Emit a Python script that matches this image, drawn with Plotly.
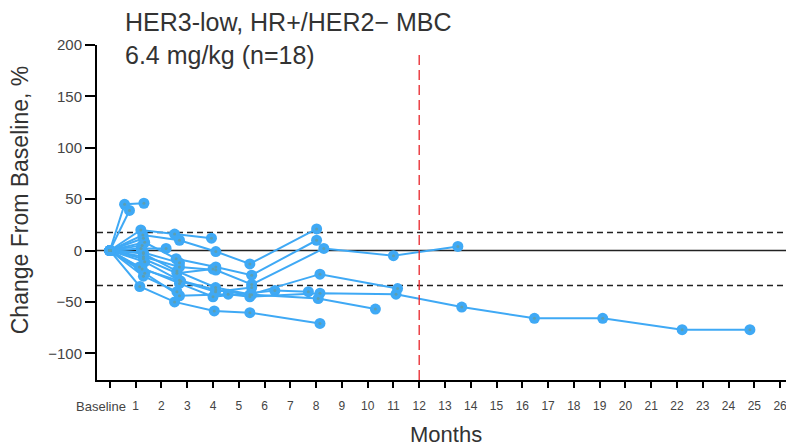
import plotly.graph_objects as go

# Per-patient tumour size change from baseline (%) at each assessment (months)
pt01_months = [0, 0.57, 1.32]
pt01_change = [0, 45, 46]
pt02_months = [0, 0.76]
pt02_change = [0, 39]
pt03_months = [0, 1.2, 2.51, 3.94]
pt03_change = [0, 20, 16, 12]
pt04_months = [0, 1.28, 2.7, 4.11, 5.43, 8.02]
pt04_change = [0, 15, 10, -1, -13, 21]
pt05_months = [0, 1.21, 2.18]
pt05_change = [0, 2, 2]
pt06_months = [0, 1.35, 2.57, 4.11, 5.5, 8.02]
pt06_change = [0, 8, -8, -16, -24, 10]
pt07_months = [0, 1.3, 2.7, 4.11, 5.5, 8.3, 11.0, 13.5]
pt07_change = [0, -6, -16, -19, -33, 2, -5, 4]
pt08_months = [0, 1.35, 2.7, 4.11, 5.43, 8.15, 11.16]
pt08_change = [0, -11, -29, -38.5, -43, -23, -37]
pt09_months = [0, 1.15, 2.7, 4.0, 6.4, 7.7]
pt09_change = [0, -16, -32, -45, -39, -40]
pt10_months = [0, 1.35, 2.7, 4.59, 5.43, 8.15, 11.1, 13.65, 16.47, 19.12, 22.2, 24.83]
pt10_change = [0, -22, -44, -42.5, -45, -41.5, -42.5, -55, -66, -66, -77, -77]
pt11_months = [0, 1.16, 2.51, 4.05, 5.43, 8.15]
pt11_change = [0, -35, -50, -58.8, -60.5, -71]
pt12_months = [0, 1.3, 2.6, 4.1, 5.5, 8.08, 10.3]
pt12_change = [0, -3, -20, -36, -43, -46.7, -57]
pt13_months = [0, 1.3]
pt13_change = [0, 12]
pt14_months = [0, 1.25]
pt14_change = [0, 5]
pt15_months = [0, 1.3, 2.7]
pt15_change = [0, -2, -12]
pt16_months = [0, 1.3, 2.6, 4.0]
pt16_change = [0, -8, -22, -18]
pt17_months = [0, 1.25, 2.75, 4.1, 5.5]
pt17_change = [0, -18, -30, -40, -36]
pt18_months = [0, 1.3, 2.6]
pt18_change = [0, -25, -40]

patients = [
    (pt01_months, pt01_change), (pt02_months, pt02_change), (pt03_months, pt03_change),
    (pt04_months, pt04_change), (pt05_months, pt05_change), (pt06_months, pt06_change),
    (pt07_months, pt07_change), (pt08_months, pt08_change), (pt09_months, pt09_change),
    (pt10_months, pt10_change), (pt11_months, pt11_change), (pt12_months, pt12_change),
    (pt13_months, pt13_change), (pt14_months, pt14_change), (pt15_months, pt15_change),
    (pt16_months, pt16_change), (pt17_months, pt17_change), (pt18_months, pt18_change),
]

# Reference levels
progression_line = 17.5
response_line = -34
cutoff_month = 12

x_tick_vals = list(range(0, 27))
x_tick_text = [""] + [str(m) for m in range(1, 27)]
y_tick_vals = [-100, -50, 0, 50, 100, 150, 200]

title_lines = ["HER3-low, HR+/HER2\u2212 MBC", "6.4 mg/kg (n=18)"]

BLUE = "#3fa9f5"
FONT = "Liberation Sans, Arial, sans-serif"

fig = go.Figure()

for months, change in patients:
    fig.add_trace(go.Scatter(
        x=months, y=change, mode="lines+markers",
        line=dict(color=BLUE, width=2),
        marker=dict(color=BLUE, size=11, line=dict(width=0)),
        showlegend=False, hoverinfo="skip",
    ))

# Small darker centre on each assessment marker
for months, change in patients:
    fig.add_trace(go.Scatter(
        x=months, y=change, mode="markers",
        marker=dict(color="#5d9fb0", size=3, line=dict(width=0)),
        showlegend=False, hoverinfo="skip",
    ))

# Horizontal reference lines
for yv, dash in [(progression_line, "6px,4px"), (0, "solid"), (response_line, "6px,4px")]:
    fig.add_shape(type="line", xref="paper", x0=0, x1=1, yref="y", y0=yv, y1=yv,
                  line=dict(color="#222", width=1.6, dash=dash), layer="below")

# Vertical 12-month marker
fig.add_shape(type="line", xref="x", x0=cutoff_month, x1=cutoff_month, yref="y", y0=-126, y1=192,
              line=dict(color="#e8252b", width=1.3, dash="10px,5px"), layer="above")

fig.update_layout(
    width=786, height=448,
    margin=dict(l=97, r=0, t=44.5, b=68),
    paper_bgcolor="white", plot_bgcolor="white",
    font=dict(family=FONT, color="#333"),
    xaxis=dict(
        range=[-0.5, 26.23], showline=True, linecolor="black", linewidth=2,
        ticks="outside", ticklen=6, tickwidth=1.5, tickcolor="black",
        tickvals=x_tick_vals, ticktext=x_tick_text,
        tickfont=dict(size=12, color="#444", family=FONT),
        ticklabelstandoff=8, ticklabeloverflow="allow",
        showgrid=False, zeroline=False,
    ),
    yaxis=dict(
        range=[-126, 200], showline=True, linecolor="black", linewidth=2,
        ticks="outside", ticklen=10, tickwidth=1.5, tickcolor="black",
        tickvals=y_tick_vals,
        tickfont=dict(size=15, color="#444", family=FONT),
        showgrid=False, zeroline=False,
    ),
)

fig.add_annotation(text="Baseline", xref="x", x=0, yref="paper", y=0, yanchor="top",
                   xanchor="center", xshift=-9, yshift=-17, showarrow=False,
                   font=dict(size=13, color="#444", family=FONT))

fig.add_annotation(text="<br>".join(title_lines), xref="paper", x=(123 - 97) / 689,
                   xanchor="left", yref="paper", y=1 + (44.5 - 5) / 335.5, yanchor="top",
                   align="left", showarrow=False,
                   font=dict(size=25, color="#333", family=FONT))

fig.add_annotation(text="Change From Baseline, %", xref="paper", x=(20 - 97) / 689,
                   xanchor="center", yref="paper", y=1 - (200 - 44.5) / 335.5, yanchor="middle",
                   textangle=-90, showarrow=False,
                   font=dict(size=23, color="#333", family=FONT))

fig.add_annotation(text="Months", xref="paper", x=(446 - 97) / 689, xanchor="center",
                   yref="paper", y=-(435 - 380) / 335.5, yanchor="middle",
                   showarrow=False, font=dict(size=22, color="#333", family=FONT))

fig.write_html("out.html")
